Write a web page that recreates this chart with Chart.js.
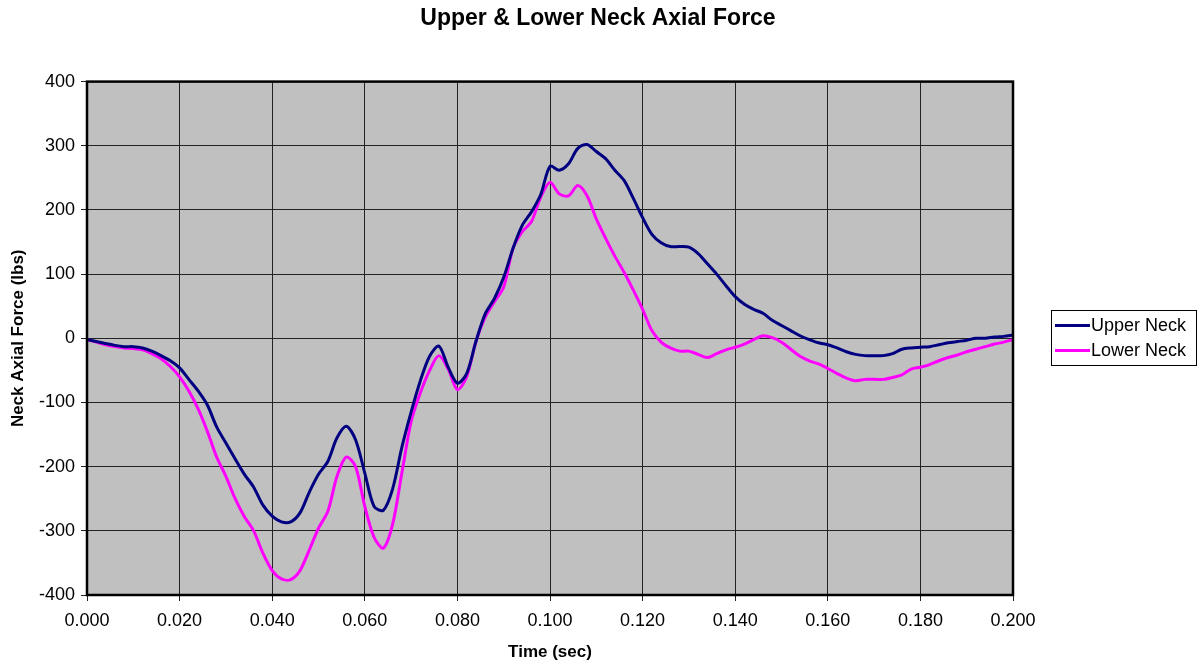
<!DOCTYPE html>
<html lang="en">
<head>
    <meta charset="UTF-8">
    <title>Upper & Lower Neck Axial Force</title>
    <script src="https://cdn.jsdelivr.net/npm/chart.js"></script>
    <style>
        html, body {
            margin: 0;
            padding: 0;
            background: #ffffff;
        }
        #wrap {
            width: 1204px;
            height: 667px;
        }
    </style>
</head>
<body>
    <div id="wrap">
        <canvas id="chart" width="1204" height="667"></canvas>
    </div>

    <script>
        // time (sec), sampled every 2 ms
        const time = [
            0.000, 0.002, 0.004, 0.006, 0.008, 0.010, 0.012, 0.014, 0.016, 0.018,
            0.020, 0.022, 0.024, 0.026, 0.028, 0.030, 0.032, 0.034, 0.036, 0.038,
            0.040, 0.042, 0.044, 0.046, 0.048, 0.050, 0.052, 0.054, 0.056, 0.058,
            0.060, 0.062, 0.064, 0.066, 0.068, 0.070, 0.072, 0.074, 0.076, 0.078,
            0.080, 0.082, 0.084, 0.086, 0.088, 0.090, 0.092, 0.094, 0.096, 0.098,
            0.100, 0.102, 0.104, 0.106, 0.108, 0.110, 0.112, 0.114, 0.116, 0.118,
            0.120, 0.122, 0.124, 0.126, 0.128, 0.130, 0.132, 0.134, 0.136, 0.138,
            0.140, 0.142, 0.144, 0.146, 0.148, 0.150, 0.152, 0.154, 0.156, 0.158,
            0.160, 0.162, 0.164, 0.166, 0.168, 0.170, 0.172, 0.174, 0.176, 0.178,
            0.180, 0.182, 0.184, 0.186, 0.188, 0.190, 0.192, 0.194, 0.196, 0.198,
            0.200
        ];

        // axial force (lbs)
        const upperNeck = [
            -2, -5, -8, -11, -13, -13, -15, -20, -27, -35,
            -46, -64, -82, -104, -138, -163, -188, -212, -232, -260,
            -277, -286, -286, -272, -240, -212, -192, -155, -137, -158,
            -210, -262, -268, -235, -170, -115, -66, -28, -12, -45,
            -70, -55, -5, 38, 62, 95, 140, 176, 197, 224,
            268, 262, 272, 296, 302, 291, 280, 262, 246, 218,
            188, 162, 149, 143, 143, 142, 132, 116, 100, 82,
            65, 53, 45, 39, 28, 20, 12, 4, -2, -7,
            -10, -15, -21, -25, -27, -27, -27, -24, -17, -15,
            -14, -13, -10, -7, -5, -3, 0, 0, 2, 3,
            5
        ];

        const lowerNeck = [
            -2, -6, -10, -13, -15, -16, -18, -24, -32, -44,
            -60, -82, -110, -145, -185, -215, -250, -278, -300, -335,
            -362, -375, -376, -362, -330, -296, -270, -215, -185, -200,
            -262, -310, -327, -290, -210, -130, -85, -50, -27, -48,
            -80, -60, -5, 33, 57, 80, 140, 166, 182, 220,
            243, 225, 222, 238, 222, 186, 156, 128, 103, 75,
            45, 12, -6, -15, -20, -20, -25, -30, -24, -18,
            -14, -9, -2, 4, 1, -6, -17, -28, -35, -40,
            -47, -55, -62, -66, -64, -64, -64, -61, -57, -48,
            -45, -41, -35, -30, -26, -21, -17, -13, -9, -6,
            -2
        ];

        const seriesNames = ['Upper Neck', 'Lower Neck'];
        const seriesColors = ['#000080', '#FF00FF'];

        const FONT = '"Liberation Sans", Arial, sans-serif';

        // grey plot background + black frame
        const plotFrame = {
            id: 'plotFrame',
            beforeDraw(chart) {
                const a = chart.chartArea;
                const ctx = chart.ctx;
                ctx.save();
                ctx.fillStyle = '#C0C0C0';
                ctx.fillRect(a.left, a.top, a.right - a.left, a.bottom - a.top);
                ctx.restore();
            },
            afterDatasetsDraw(chart) {
                const a = chart.chartArea;
                const ctx = chart.ctx;
                ctx.save();
                ctx.strokeStyle = '#000000';
                ctx.lineWidth = 2.5;
                ctx.strokeRect(a.left, a.top, a.right - a.left, a.bottom - a.top);
                ctx.restore();
            }
        };

        // boxed legend on the right, built from the dataset labels
        const boxLegend = {
            id: 'boxLegend',
            afterDraw(chart) {
                const ctx = chart.ctx;
                ctx.save();
                ctx.strokeStyle = '#000000';
                ctx.lineWidth = 1;
                ctx.strokeRect(1051.5, 310.5, 145, 55);
                ctx.font = '18px ' + FONT;
                ctx.textBaseline = 'middle';
                ctx.fillStyle = '#000000';
                chart.data.datasets.forEach((ds, i) => {
                    const y = 325.5 + i * 25;
                    ctx.strokeStyle = ds.borderColor;
                    ctx.lineWidth = 3;
                    ctx.beginPath();
                    ctx.moveTo(1055, y);
                    ctx.lineTo(1090, y);
                    ctx.stroke();
                    ctx.fillText(ds.label, 1091, y + 1);
                });
                ctx.restore();
            }
        };

        const ctx = document.getElementById('chart').getContext('2d');

        new Chart(ctx, {
            type: 'line',
            data: {
                datasets: [upperNeck, lowerNeck].map((vals, s) => ({
                    label: seriesNames[s],
                    data: time.map((t, i) => ({ x: t, y: vals[i] })),
                    borderColor: seriesColors[s],
                    backgroundColor: seriesColors[s],
                    borderWidth: 3,
                    pointRadius: 0,
                    tension: 0.3,
                    fill: false
                }))
            },
            options: {
                responsive: false,
                animation: false,
                layout: { padding: { left: 0, right: 8, top: 0, bottom: 0 } },
                plugins: {
                    legend: { display: false },
                    tooltip: { enabled: false },
                    title: {
                        display: true,
                        text: 'Upper & Lower Neck Axial Force',
                        color: '#000000',
                        font: { family: FONT, size: 23, weight: 'bold' },
                        padding: { top: 5, bottom: 49 }
                    }
                },
                scales: {
                    x: {
                        type: 'linear',
                        min: 0,
                        max: 0.2,
                        afterFit(scale) { scale.height = 72; },
                        ticks: {
                            stepSize: 0.02,
                            maxRotation: 0,
                            autoSkip: false,
                            padding: 9,
                            color: '#000000',
                            font: { family: FONT, size: 18 },
                            callback: v => v.toFixed(3)
                        },
                        grid: { color: '#222222', lineWidth: 1, tickLength: 6 },
                        border: { display: false },
                        title: {
                            display: true,
                            text: 'Time (sec)',
                            color: '#000000',
                            font: { family: FONT, size: 17, weight: 'bold' },
                            padding: { top: 0, bottom: 4 }
                        }
                    },
                    y: {
                        min: -400,
                        max: 400,
                        afterFit(scale) { scale.width = 87; },
                        ticks: {
                            stepSize: 100,
                            padding: 6,
                            color: '#000000',
                            font: { family: FONT, size: 18 }
                        },
                        grid: { color: '#222222', lineWidth: 1, tickLength: 6 },
                        border: { display: false },
                        title: {
                            display: true,
                            text: 'Neck Axial Force (lbs)',
                            color: '#000000',
                            font: { family: FONT, size: 17, weight: 'bold' },
                            padding: { top: 8, bottom: 0 }
                        }
                    },
                    // empty axis that reserves the room where the legend sits
                    legendRoom: {
                        type: 'linear',
                        position: 'right',
                        display: true,
                        afterFit(scale) { scale.width = 183; },
                        ticks: { display: false },
                        grid: { display: false },
                        border: { display: false }
                    }
                }
            },
            plugins: [plotFrame, boxLegend]
        });
    </script>
</body>
</html>
